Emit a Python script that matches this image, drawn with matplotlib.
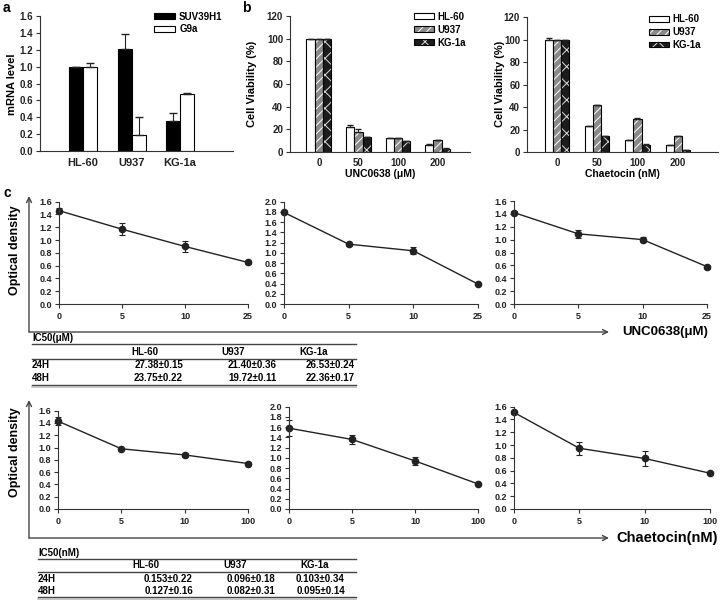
import numpy as np
import matplotlib
matplotlib.use("Agg")
import matplotlib.pyplot as plt
from matplotlib.patches import Patch
from matplotlib.ticker import FormatStrFormatter

plt.rcParams['font.family'] = ['Liberation Sans', 'DejaVu Sans']
plt.rcParams['font.weight'] = 'bold'
plt.rcParams['axes.labelweight'] = 'bold'
plt.rcParams['hatch.linewidth'] = 0.7

# ---------------- data ----------------
a_categories = ['HL-60', 'U937', 'KG-1a']
a_suv = [1.0, 1.21, 0.36]
a_suv_err = [0.0, 0.18, 0.09]
a_g9a = [1.0, 0.19, 0.68]
a_g9a_err = [0.04, 0.21, 0.01]

b_doses = ['0', '50', '100', '200']
b_unc_hl60 = [100, 22.5, 12.5, 6.5]
b_unc_hl60_err = [0, 1.0, 0, 1.0]
b_unc_u937 = [100, 17.5, 12.5, 10.3]
b_unc_u937_err = [0, 3.0, 0, 0]
b_unc_kg1a = [100, 13.3, 9.5, 2.9]
b_unc_kg1a_err = [0, 0, 0, 0.5]

b_chae_hl60 = [100, 23, 11, 6]
b_chae_hl60_err = [1.5, 0, 0, 0]
b_chae_u937 = [100, 41.7, 29, 14.3]
b_chae_u937_err = [0, 0, 1.5, 0]
b_chae_kg1a = [100, 14.3, 6, 2]
b_chae_kg1a_err = [0, 0, 1.5, 0]

c_unc_ticks = ['0', '5', '10', '25']
c_unc_hl60 = [1.46, 1.17, 0.90, 0.65]
c_unc_hl60_err = [0.04, 0.09, 0.09, 0.02]
c_unc_u937 = [1.79, 1.17, 1.04, 0.39]
c_unc_u937_err = [0.03, 0.03, 0.07, 0.02]
c_unc_kg1a = [1.42, 1.09, 1.00, 0.58]
c_unc_kg1a_err = [0.02, 0.06, 0.04, 0.03]

c_chae_ticks = ['0', '5', '10', '100']
c_chae_hl60 = [1.43, 0.98, 0.88, 0.74]
c_chae_hl60_err = [0.06, 0.02, 0.03, 0.02]
c_chae_u937 = [1.58, 1.36, 0.94, 0.49]
c_chae_u937_err = [0.16, 0.09, 0.08, 0.02]
c_chae_kg1a = [1.51, 0.95, 0.79, 0.56]
c_chae_kg1a_err = [0.02, 0.10, 0.11, 0.02]

ic50_cols = ['HL-60', 'U937', 'KG-1a']
ic50_rows = ['24H', '48H']
ic50_unc = [['27.38\u00b10.15', '21.40\u00b10.36', '26.53\u00b10.24'],
            ['23.75\u00b10.22', '19.72\u00b10.11', '22.36\u00b10.17']]
ic50_chae = [['0.153\u00b10.22', '0.096\u00b10.18', '0.103\u00b10.34'],
             ['0.127\u00b10.16', '0.082\u00b10.31', '0.095\u00b10.14']]

# ---------------- figure ----------------
W, H = 728, 600
fig = plt.figure(figsize=(W / 100, H / 100), dpi=100)
fig.patch.set_facecolor('white')

ov = fig.add_axes([0, 0, 1, 1])
ov.set_xlim(0, W)
ov.set_ylim(H, 0)
ov.axis('off')


def px_axes(x0, y0, x1, y1):
    return fig.add_axes([x0 / W, 1 - y1 / H, (x1 - x0) / W, (y1 - y0) / H])


def style(ax, fs=7):
    for s in ['top', 'right']:
        ax.spines[s].set_visible(False)
    for s in ['left', 'bottom']:
        ax.spines[s].set_linewidth(0.8)
        ax.spines[s].set_color('#333333')
    ax.tick_params(axis='both', labelsize=fs, width=0.8, length=3, pad=2, colors='#333333',
                   labelcolor='#222222')
    ax.patch.set_alpha(0)


# ---- panel a ----
axa = px_axes(40, 16, 233, 151)
style(axa)
xa = np.arange(1, len(a_categories) + 1)
bw = 0.29
axa.bar(xa - bw / 2, a_suv, bw, color='black', edgecolor='black', lw=0.8, label='SUV39H1')
axa.bar(xa + bw / 2, a_g9a, bw, color='white', edgecolor='black', lw=0.8, label='G9a')
axa.errorbar(xa - bw / 2, a_suv, yerr=[np.zeros(3), a_suv_err], fmt='none', ecolor='#222',
             elinewidth=0.8, capsize=3)
axa.errorbar(xa + bw / 2, a_g9a, yerr=[np.zeros(3), a_g9a_err], fmt='none', ecolor='#222',
             elinewidth=0.8, capsize=3)
axa.set_xlim(0.113, 4.09)
axa.set_ylim(0, 1.6)
axa.set_yticks(np.arange(0, 1.61, 0.2))
axa.yaxis.set_major_formatter(FormatStrFormatter('%.1f'))
axa.set_xticks(xa)
axa.set_xticklabels(a_categories, fontsize=8)
axa.tick_params(axis='x', length=0, pad=5)
axa.legend(loc='upper left', bbox_to_anchor=(0.57, 1.06), frameon=False, fontsize=7,
           handlelength=2.2, handleheight=0.55, labelspacing=0.25, handletextpad=0.4,
           borderaxespad=0)
ov.text(12, 84, 'mRNA level', rotation=90, ha='center', va='center', fontsize=8)


# ---- panel b ----
def bar_group(ax, vals_list, errs_list, bw, legend_anchor):
    x = np.arange(len(b_doses))
    styles = [dict(fc='white', hatch=None, hc='white'),
              dict(fc='#8a8a8a', hatch='////', hc='white'),
              dict(fc='#1c1c1c', hatch='xx', hc='#dddddd')]
    names = ['HL-60', 'U937', 'KG-1a']
    handles = []
    for i, (vals, errs, st) in enumerate(zip(vals_list, errs_list, styles)):
        pos = x + (i - 1) * bw
        ax.bar(pos, vals, bw, color=st['fc'], edgecolor=st['hc'], hatch=st['hatch'], lw=0)
        ax.bar(pos, vals, bw, fill=False, edgecolor='black', lw=0.8)
        ax.errorbar(pos, vals, yerr=[np.zeros(len(vals)), errs], fmt='none', ecolor='#222',
                    elinewidth=0.8, capsize=2.5)
        h1 = Patch(facecolor=st['fc'], edgecolor=st['hc'], hatch=st['hatch'], lw=0)
        h2 = Patch(fill=False, edgecolor='black', lw=0.8)
        handles.append((h1, h2))
    ax.set_ylim(0, 120)
    ax.set_yticks(np.arange(0, 121, 20))
    ax.set_xticks(x)
    ax.set_xticklabels(b_doses)
    ax.tick_params(axis='x', length=0, pad=4)
    ax.legend(handles, names, loc='upper left', bbox_to_anchor=legend_anchor, frameon=False,
              fontsize=7, handlelength=2.0, handleheight=0.55, labelspacing=0.3,
              handletextpad=0.4, borderaxespad=0)


axb1 = px_axes(290, 16, 470, 152)
style(axb1)
bar_group(axb1, [b_unc_hl60, b_unc_u937, b_unc_kg1a],
          [b_unc_hl60_err, b_unc_u937_err, b_unc_kg1a_err], 0.21, (0.67, 1.06))
axb1.set_xlim(-0.73, 3.82)
axb1.set_xlabel('UNC0638 (\u03bcM)', fontsize=7.5, fontweight='bold', labelpad=1)
ov.text(252, 84, 'Cell Viability (%)', rotation=90, ha='center', va='center', fontsize=8)

axb2 = px_axes(527, 17, 718, 152)
style(axb2)
bar_group(axb2, [b_chae_hl60, b_chae_u937, b_chae_kg1a],
          [b_chae_hl60_err, b_chae_u937_err, b_chae_kg1a_err], 0.2, (0.62, 1.05))
axb2.set_xlim(-0.745, 4.0)
axb2.set_xlabel('Chaetocin (nM)', fontsize=7.5, fontweight='bold', labelpad=1)
ov.text(500, 84, 'Cell Viability (%)', rotation=90, ha='center', va='center', fontsize=8)


# ---- panel c ----
def line_panel(box, ticks, vals, errs, ymax):
    ax = px_axes(*box)
    style(ax)
    x = np.arange(len(ticks))
    ax.errorbar(x, vals, yerr=errs, fmt='-o', color='#222222', lw=1, ms=4.5,
                capsize=2.5, elinewidth=0.8, capthick=0.8)
    for ch in ax.get_children():
        ch.set_clip_on(False)
    ax.set_xlim(0, len(ticks) - 1)
    ax.set_ylim(0, ymax)
    ax.set_yticks(np.arange(0, ymax + 0.01, 0.2))
    ax.yaxis.set_major_formatter(FormatStrFormatter('%.1f'))
    ax.set_xticks(x)
    ax.set_xticklabels(ticks)
    ax.tick_params(labelsize=6.5)
    ax.tick_params(axis='x', pad=3)
    return ax


line_panel((59, 201.7, 248, 304), c_unc_ticks, c_unc_hl60, c_unc_hl60_err, 1.6)
line_panel((284, 201.7, 478, 304), c_unc_ticks, c_unc_u937, c_unc_u937_err, 2.0)
line_panel((514, 201, 707, 304), c_unc_ticks, c_unc_kg1a, c_unc_kg1a_err, 1.6)
line_panel((58, 410.7, 248, 509), c_chae_ticks, c_chae_hl60, c_chae_hl60_err, 1.6)
line_panel((289, 406.7, 478, 509), c_chae_ticks, c_chae_u937, c_chae_u937_err, 2.0)
line_panel((514, 406.7, 710, 509), c_chae_ticks, c_chae_kg1a, c_chae_kg1a_err, 1.6)

for (yb, yt) in [(332, 196), (538, 400)]:
    ov.annotate('', xy=(29, yt), xytext=(29, yb),
                arrowprops=dict(arrowstyle='->', lw=1, color='#444444', mutation_scale=9,
                                shrinkA=0, shrinkB=0))
    ov.annotate('', xy=(609, yb), xytext=(29, yb),
                arrowprops=dict(arrowstyle='->', lw=1, color='#444444', mutation_scale=9,
                                shrinkA=0, shrinkB=0))
ov.text(622, 332, 'UNC0638(\u03bcM)', ha='left', va='center', fontsize=9.5)
ov.text(616, 538, 'Chaetocin(nM)', ha='left', va='center', fontsize=10.5)
ov.text(15, 250, 'Optical density', rotation=90, ha='center', va='center', fontsize=9)
ov.text(15, 452, 'Optical density', rotation=90, ha='center', va='center', fontsize=9)

# panel letters
ov.text(3, 8, 'a', fontsize=10, ha='left', va='center')
ov.text(242, 8, 'b', fontsize=10, ha='left', va='center')
ov.text(3, 193, 'c', fontsize=10, ha='left', va='center')


# ---- tables ----
def table(x0, x1, y_title, title, data, hdr_centers, val_right, y_lines, y_hdr, y_rows):
    ov.text(x0, y_title, title, ha='left', va='center', fontsize=7)
    ov.plot([x0, x1], [y_lines[0]] * 2, color='#444444', lw=1)
    for c, name in zip(hdr_centers, ic50_cols):
        ov.text(c, y_hdr, name, ha='center', va='center', fontsize=7)
    ov.plot([x0, x1], [y_lines[1]] * 2, color='#444444', lw=1)
    for r, (rn, yr) in enumerate(zip(ic50_rows, y_rows)):
        ov.text(x0, yr, rn, ha='left', va='center', fontsize=7)
        for c, xr in enumerate(val_right):
            ov.text(xr, yr, data[r][c], ha='right', va='center', fontsize=7)
    ov.plot([x0, x1], [y_lines[2]] * 2, color='#444444', lw=1)
    ov.plot([x0, x1], [y_lines[2] + 2] * 2, color='#bbbbbb', lw=1.2)


table(32, 356, 338, 'IC50(\u03bcM)', ic50_unc, [145, 233, 314], [183, 277, 355],
      [344, 359, 385], 352, [365, 378])
table(38, 356, 553, 'IC50(nM)', ic50_chae, [146, 235, 315], [193, 275, 345],
      [559, 572, 597], 565, [579, 591])

fig.savefig('out.png', dpi=100)
